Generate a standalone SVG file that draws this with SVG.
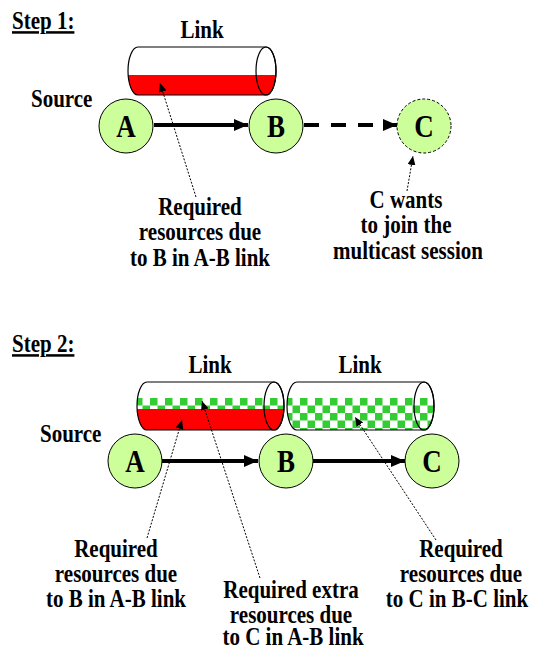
<svg xmlns="http://www.w3.org/2000/svg" width="536" height="649" viewBox="0 0 536 649">
<style>
text{font-family:"Liberation Serif","Times New Roman",serif;font-weight:bold;fill:#000}
.lbl{font-size:21px;text-anchor:middle}
.hd{font-size:21px;text-decoration:underline}
.src{font-size:21px}
.nd{font-size:27px;text-anchor:middle}
.node{fill:#ccff99;stroke:#000;stroke-width:1}
.cyl{fill:none;stroke:#000;stroke-width:1.2}
.main{stroke:#000;stroke-width:4;fill:none}
.ptr{stroke:#000;stroke-width:1;stroke-dasharray:2,1.5;fill:none}
</style>
<defs>
<marker id="ah" markerWidth="14" markerHeight="12" refX="14" refY="6" orient="auto" markerUnits="userSpaceOnUse">
<path d="M0,0 L14,6 L0,12 Z" fill="#000"/>
</marker>
<marker id="ph" markerWidth="9" markerHeight="8" refX="9" refY="4" orient="auto" markerUnits="userSpaceOnUse">
<path d="M0,0 L9,4 L0,8 Z" fill="#000"/>
</marker>
<pattern id="chk" width="15" height="15" patternUnits="userSpaceOnUse" x="0" y="398">
<rect width="15" height="15" fill="#fff"/>
<rect width="7.5" height="7.5" fill="#33cc33"/>
<rect x="7.5" y="7.5" width="7.5" height="7.5" fill="#33cc33"/>
</pattern>
<clipPath id="c1"><path d="M138,47 L266,47 A10,24 0 0 1 266,95 L138,95 A10,24 0 0 1 138,47 Z"/></clipPath>
<clipPath id="c2"><path d="M147,382 L274,382 A10,24 0 0 1 274,430 L147,430 A10,24 0 0 1 147,382 Z"/></clipPath>
<clipPath id="c3"><path d="M297,382 L424,382 A10,24 0 0 1 424,430 L297,430 A10,24 0 0 1 297,382 Z"/></clipPath>
</defs>
<rect width="536" height="649" fill="#fff"/>

<text class="hd" transform="matrix(1 0 0 1.2 12 29)">Step 1:</text>
<text class="hd" transform="matrix(1 0 0 1.2 12 352)">Step 2:</text>

<g id="link1">
<text class="lbl" transform="matrix(1 0 0 1.2 202 38)">Link</text>
<rect x="120" y="75" width="170" height="25" fill="#ff0000" clip-path="url(#c1)"/>
<path class="cyl" d="M138,47 L266,47 A10,24 0 0 1 266,95 L138,95 A10,24 0 0 1 138,47 Z"/>
<ellipse class="cyl" cx="266" cy="71" rx="10" ry="24"/>
</g>

<g id="link2a">
<text class="lbl" transform="matrix(1 0 0 1.2 210 373)">Link</text>
<rect x="130" y="398" width="160" height="11" fill="url(#chk)" clip-path="url(#c2)"/>
<rect x="130" y="409" width="160" height="25" fill="#ff0000" clip-path="url(#c2)"/>
<path class="cyl" d="M147,382 L274,382 A10,24 0 0 1 274,430 L147,430 A10,24 0 0 1 147,382 Z"/>
<ellipse class="cyl" cx="274" cy="406" rx="10" ry="24"/>
</g>

<g id="link2b">
<text class="lbl" transform="matrix(1 0 0 1.2 360 373)">Link</text>
<rect x="280" y="398" width="160" height="36" fill="url(#chk)" clip-path="url(#c3)"/>
<path class="cyl" d="M297,382 L424,382 A10,24 0 0 1 424,430 L297,430 A10,24 0 0 1 297,382 Z"/>
<ellipse class="cyl" cx="424" cy="406" rx="10" ry="24"/>
</g>

<g id="connectors">
<line class="main" x1="154" y1="125" x2="248" y2="125" marker-end="url(#ah)"/>
<line class="main" x1="304" y1="125" x2="397" y2="125" stroke-dasharray="15,12" marker-end="url(#ah)"/>
<line class="main" x1="162" y1="461" x2="258" y2="461" marker-end="url(#ah)"/>
<line class="main" x1="313" y1="461" x2="405" y2="461" marker-end="url(#ah)"/>
<line class="ptr" x1="196" y1="197" x2="160" y2="83" marker-end="url(#ph)"/>
<line class="ptr" x1="407" y1="191" x2="413" y2="156" marker-end="url(#ph)"/>
<line class="ptr" x1="147" y1="538" x2="182" y2="420" marker-end="url(#ph)"/>
<line class="ptr" x1="260" y1="578" x2="202" y2="401" marker-end="url(#ph)"/>
<line class="ptr" x1="436" y1="540" x2="355" y2="417" marker-end="url(#ph)"/>
</g>

<g id="s1-source"><text class="src" transform="matrix(1 0 0 1.2 31 107)">Source</text></g>
<g id="s1-A"><circle class="node" cx="126" cy="126" r="27"/><text class="nd" transform="matrix(1 0 0 1.15 126 137)">A</text></g>
<g id="s1-B"><circle class="node" cx="276" cy="126" r="27"/><text class="nd" transform="matrix(1 0 0 1.15 276 137)">B</text></g>
<g id="s1-C"><circle class="node" cx="424" cy="126" r="27" stroke-dasharray="3,2"/><text class="nd" transform="matrix(1 0 0 1.15 424 137)">C</text></g>

<g id="s1-note1">
<text class="lbl" transform="matrix(1 0 0 1.2 200 215)">Required</text>
<text class="lbl" transform="matrix(1 0 0 1.2 200 240)">resources due</text>
<text class="lbl" transform="matrix(1 0 0 1.2 200 266)">to B in A-B link</text>
</g>
<g id="s1-note2">
<text class="lbl" transform="matrix(1 0 0 1.2 406 208)">C wants</text>
<text class="lbl" transform="matrix(1 0 0 1.2 406 233)">to join the</text>
<text class="lbl" transform="matrix(1 0 0 1.2 408 259)">multicast session</text>
</g>

<g id="s2-source"><text class="src" transform="matrix(1 0 0 1.2 40 442)">Source</text></g>
<g id="s2-A"><circle class="node" cx="135" cy="461" r="27"/><text class="nd" transform="matrix(1 0 0 1.15 135 472)">A</text></g>
<g id="s2-B"><circle class="node" cx="286" cy="461" r="27"/><text class="nd" transform="matrix(1 0 0 1.15 286 472)">B</text></g>
<g id="s2-C"><circle class="node" cx="432" cy="461" r="27"/><text class="nd" transform="matrix(1 0 0 1.15 432 472)">C</text></g>

<g id="s2-note1">
<text class="lbl" transform="matrix(1 0 0 1.2 116 557)">Required</text>
<text class="lbl" transform="matrix(1 0 0 1.2 116 582)">resources due</text>
<text class="lbl" transform="matrix(1 0 0 1.2 116 607)">to B in A-B link</text>
</g>
<g id="s2-note2">
<text class="lbl" transform="matrix(1 0 0 1.2 291 598)">Required extra</text>
<text class="lbl" transform="matrix(1 0 0 1.2 291 623)">resources due</text>
<text class="lbl" transform="matrix(1 0 0 1.2 293 645)">to C in A-B link</text>
</g>
<g id="s2-note3">
<text class="lbl" transform="matrix(1 0 0 1.2 461 557)">Required</text>
<text class="lbl" transform="matrix(1 0 0 1.2 461 582)">resources due</text>
<text class="lbl" transform="matrix(1 0 0 1.2 457 607)">to C in B-C link</text>
</g>
</svg>
